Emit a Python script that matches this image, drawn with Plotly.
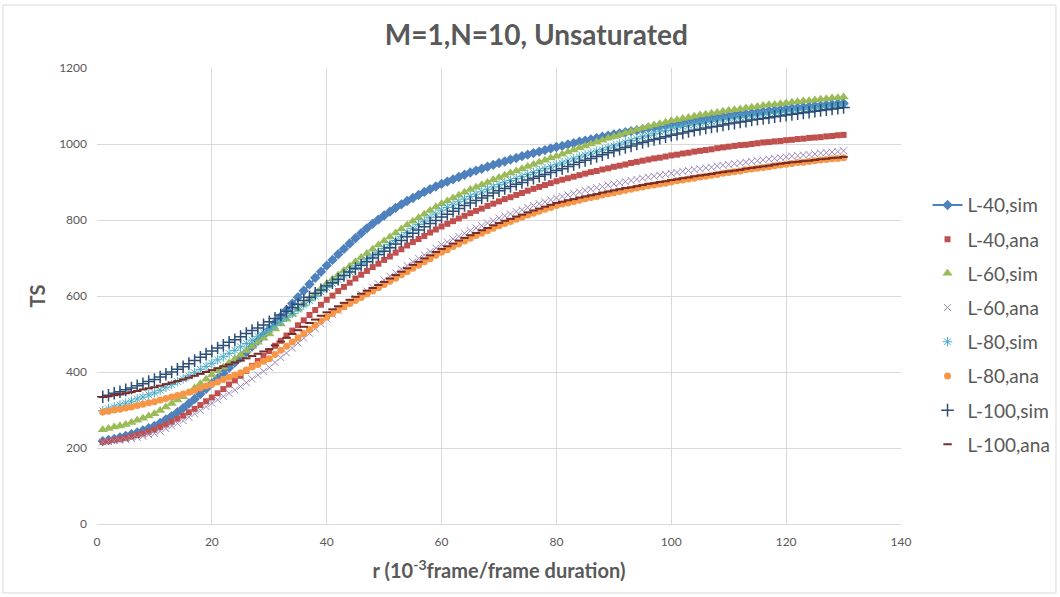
import plotly.graph_objects as go

# r values (10^-3 frame / frame duration)
r = list(range(1, 131))

l40_sim = [
    218, 221, 224, 228, 232, 236, 241, 246, 252, 258,
    266, 275, 284, 294, 305, 317, 329, 342, 356, 370,
    383, 397, 411, 425, 438, 452, 467, 482, 497, 512,
    529, 546, 563, 580, 597, 614, 631, 648, 664, 680,
    695, 710, 724, 738, 752, 765, 778, 790, 801, 812,
    822, 832, 841, 850, 858, 866, 874, 881, 888, 895,
    901, 907, 913, 919, 925, 930, 935, 940, 945, 950,
    954, 959, 963, 968, 972, 976, 980, 984, 988, 992,
    995, 999, 1002, 1006, 1009, 1012, 1015, 1019, 1022, 1025,
    1028, 1031, 1034, 1036, 1039, 1042, 1044, 1047, 1049, 1052,
    1054, 1056, 1059, 1061, 1063, 1065, 1067, 1070, 1072, 1074,
    1076, 1078, 1079, 1081, 1083, 1085, 1087, 1088, 1090, 1092,
    1094, 1095, 1097, 1098, 1100, 1101, 1103, 1104, 1106, 1107,
]

l40_ana = [
    216, 218, 221, 223, 226, 230, 234, 238, 243, 248,
    255, 262, 269, 277, 285, 294, 303, 313, 323, 333,
    344, 355, 367, 378, 390, 403, 416, 429, 442, 455,
    469, 482, 496, 509, 523, 536, 550, 563, 577, 590,
    601, 613, 624, 635, 646, 656, 666, 676, 685, 695,
    704, 714, 723, 733, 742, 750, 758, 767, 775, 783,
    790, 797, 804, 811, 818, 824, 830, 837, 843, 849,
    855, 860, 866, 871, 877, 882, 887, 892, 897, 902,
    906, 910, 914, 918, 922, 926, 929, 933, 936, 940,
    943, 946, 950, 953, 956, 959, 962, 964, 967, 970,
    972, 975, 977, 980, 982, 984, 986, 989, 991, 993,
    995, 997, 998, 1000, 1002, 1004, 1005, 1007, 1008, 1010,
    1011, 1013, 1014, 1016, 1017, 1018, 1020, 1021, 1023, 1024,
]

l60_sim = [
    248, 251, 255, 258, 262, 267, 273, 278, 284, 290,
    299, 308, 317, 326, 335, 346, 358, 369, 381, 392,
    403, 413, 424, 434, 445, 456, 467, 478, 489, 500,
    513, 526, 539, 552, 565, 578, 592, 605, 619, 632,
    644, 655, 667, 678, 690, 701, 712, 723, 734, 745,
    755, 766, 776, 787, 797, 806, 815, 825, 834, 843,
    850, 858, 865, 873, 880, 886, 893, 899, 906, 912,
    918, 924, 929, 935, 941, 946, 952, 957, 963, 968,
    973, 979, 984, 990, 995, 1000, 1005, 1010, 1015, 1020,
    1024, 1029, 1033, 1038, 1042, 1046, 1050, 1053, 1057, 1061,
    1064, 1067, 1070, 1073, 1076, 1078, 1081, 1083, 1086, 1088,
    1090, 1092, 1095, 1097, 1099, 1101, 1103, 1104, 1106, 1108,
    1110, 1111, 1113, 1114, 1116, 1118, 1119, 1121, 1122, 1124,
]

l60_ana = [
    216, 217, 219, 220, 222, 225, 228, 231, 235, 238,
    244, 251, 258, 265, 272, 281, 290, 299, 309, 318,
    327, 336, 344, 353, 362, 372, 382, 392, 402, 412,
    425, 438, 450, 463, 476, 489, 502, 514, 527, 540,
    551, 562, 572, 583, 594, 604, 613, 623, 632, 642,
    652, 661, 671, 680, 690, 699, 708, 717, 726, 735,
    742, 750, 757, 765, 772, 779, 785, 792, 798, 805,
    811, 816, 822, 827, 833, 838, 843, 848, 853, 858,
    862, 866, 870, 874, 878, 881, 885, 888, 892, 895,
    898, 901, 904, 907, 910, 913, 915, 918, 920, 923,
    925, 928, 930, 933, 935, 937, 939, 942, 944, 946,
    948, 950, 952, 954, 956, 958, 960, 962, 964, 966,
    968, 969, 971, 972, 974, 976, 977, 979, 980, 982,
]

l80_sim = [
    298, 303, 308, 313, 318, 323, 329, 334, 340, 345,
    352, 360, 367, 375, 382, 390, 398, 407, 415, 423,
    432, 440, 449, 457, 466, 475, 484, 494, 503, 512,
    523, 533, 544, 554, 565, 576, 588, 599, 611, 622,
    633, 643, 654, 664, 675, 685, 695, 705, 715, 725,
    736, 746, 757, 767, 778, 788, 797, 807, 816, 826,
    833, 840, 848, 855, 862, 868, 874, 881, 887, 893,
    898, 904, 909, 915, 920, 925, 930, 935, 940, 945,
    950, 955, 961, 966, 971, 976, 981, 985, 990, 995,
    1000, 1005, 1009, 1014, 1019, 1023, 1027, 1032, 1036, 1040,
    1043, 1046, 1048, 1051, 1054, 1056, 1059, 1061, 1064, 1066,
    1068, 1070, 1072, 1074, 1076, 1078, 1080, 1081, 1083, 1085,
    1087, 1089, 1090, 1092, 1094, 1096, 1098, 1099, 1101, 1103,
]

l80_ana = [
    295, 297, 300, 302, 305, 308, 312, 315, 319, 322,
    326, 330, 334, 338, 342, 347, 352, 358, 363, 368,
    374, 380, 386, 392, 398, 405, 413, 420, 428, 435,
    446, 457, 468, 479, 490, 501, 512, 523, 534, 545,
    554, 563, 572, 580, 588, 596, 605, 613, 622, 630,
    639, 647, 656, 664, 673, 681, 690, 698, 707, 715,
    722, 730, 737, 745, 752, 759, 765, 772, 778, 785,
    791, 796, 802, 807, 813, 818, 823, 828, 833, 838,
    842, 845, 849, 852, 856, 859, 862, 866, 869, 872,
    875, 878, 881, 884, 887, 890, 892, 895, 897, 900,
    903, 905, 908, 910, 913, 915, 918, 920, 923, 925,
    927, 929, 932, 934, 936, 938, 940, 943, 945, 947,
    949, 951, 952, 954, 956, 958, 959, 961, 962, 964,
]

l100_sim = [
    335, 339, 344, 348, 353, 358, 364, 369, 375, 380,
    387, 394, 400, 407, 414, 422, 430, 439, 447, 455,
    463, 470, 478, 485, 493, 501, 509, 516, 524, 532,
    541, 550, 560, 569, 578, 588, 597, 607, 616, 626,
    635, 644, 654, 663, 672, 681, 690, 700, 709, 718,
    727, 737, 746, 756, 765, 774, 782, 791, 799, 808,
    815, 823, 830, 838, 845, 851, 858, 864, 871, 877,
    883, 888, 894, 899, 905, 910, 915, 920, 925, 930,
    935, 941, 946, 952, 957, 962, 967, 972, 977, 982,
    986, 991, 995, 1000, 1004, 1008, 1012, 1015, 1019, 1023,
    1026, 1029, 1033, 1036, 1039, 1042, 1045, 1047, 1050, 1053,
    1055, 1058, 1060, 1063, 1065, 1067, 1069, 1072, 1074, 1076,
    1078, 1080, 1082, 1084, 1086, 1088, 1090, 1092, 1094, 1096,
]

l100_ana = [
    334, 336, 339, 341, 344, 347, 350, 354, 357, 360,
    364, 368, 372, 376, 380, 385, 390, 395, 400, 405,
    410, 415, 420, 425, 430, 436, 442, 448, 454, 460,
    470, 480, 490, 500, 510, 519, 529, 538, 548, 557,
    565, 573, 582, 590, 598, 606, 614, 621, 629, 637,
    646, 655, 664, 673, 682, 690, 699, 707, 716, 724,
    731, 738, 746, 753, 760, 766, 773, 779, 786, 792,
    798, 803, 809, 814, 820, 825, 830, 835, 840, 845,
    848, 852, 855, 859, 862, 865, 868, 872, 875, 878,
    881, 884, 886, 889, 892, 895, 897, 900, 902, 905,
    907, 910, 912, 915, 917, 919, 921, 924, 926, 928,
    930, 932, 935, 937, 939, 941, 943, 946, 948, 950,
    952, 953, 955, 956, 958, 960, 961, 963, 964, 966,
]

FONT = "Lato"
GREY = "#595959"

series = [
    ("L-40,sim", l40_sim, dict(symbol="diamond", size=8, color="#4F81BD"), True),
    ("L-40,ana", l40_ana, dict(symbol="square", size=6, color="#C0504D"), False),
    ("L-60,sim", l60_sim, dict(symbol="triangle-up", size=9, color="#9BBB59"), False),
    ("L-60,ana", l60_ana, dict(symbol="x-thin", size=7, color="#9C88BC",
                               line=dict(color="#9C88BC", width=1)), False),
    ("L-80,sim", l80_sim, dict(symbol="asterisk-open", size=8, color="#4BACC6",
                               line=dict(color="#4BACC6", width=1)), False),
    ("L-80,ana", l80_ana, dict(symbol="circle", size=7, color="#F79646"), False),
    ("L-100,sim", l100_sim, dict(symbol="cross-thin", size=9, color="#2C4D75",
                                 line=dict(color="#2C4D75", width=1.5)), False),
    ("L-100,ana", l100_ana, dict(symbol="line-ew", size=6, color="#772C2A",
                                 line=dict(color="#772C2A", width=2)), False),
]

fig = go.Figure()
for i, (name, ys, marker, with_line) in enumerate(series):
    fig.add_trace(go.Scatter(
        x=r, y=ys, name=name,
        mode="lines+markers" if with_line else "markers",
        marker=marker,
        line=dict(color=marker["color"], width=2),
        legendgroup=f"g{i}",
    ))

fig.update_layout(
    width=1060, height=597,
    margin=dict(l=97, r=159, t=68, b=73, autoexpand=False),
    paper_bgcolor="white", plot_bgcolor="white",
    font=dict(family=FONT, color=GREY),
    title=dict(text="<b>M=1,N=10, Unsaturated</b>", x=0.506, xanchor="center",
               y=1 - 35 / 597, yanchor="middle", xref="container", yref="container",
               font=dict(family=FONT, size=28, color=GREY)),
    legend=dict(x=1.033, xanchor="left", y=0.741, yanchor="top",
                font=dict(family=FONT, size=19, color=GREY),
                tracegroupgap=6.5, bgcolor="rgba(0,0,0,0)"),
    showlegend=True,
)

fig.update_xaxes(
    range=[0, 140], dtick=20, tick0=0,
    showgrid=True, gridcolor="#D9D9D9", gridwidth=1,
    showline=True, linecolor="#D9D9D9", mirror=False,
    zeroline=False, ticks="", ticklabelstandoff=7,
    tickfont=dict(family=FONT, size=12, color=GREY),
    title=dict(text="<b>r (10<sup>-3</sup>frame/frame duration)</b>",
               font=dict(family=FONT, size=20, color=GREY), standoff=15),
)
fig.update_yaxes(
    range=[0, 1200], dtick=200, tick0=0,
    showgrid=True, gridcolor="#D9D9D9", gridwidth=1,
    zeroline=False, ticks="", ticklabelstandoff=9,
    tickfont=dict(family=FONT, size=12, color=GREY),
    title=dict(text="<b>TS</b>", font=dict(family=FONT, size=20, color=GREY),
               standoff=8),
)

# light frame around the whole chart
fig.add_shape(type="rect", xref="paper", yref="paper",
              x0=(3 - 97) / 804, x1=(1056 - 97) / 804,
              y0=(524 - 593) / 456, y1=(524 - 5) / 456,
              line=dict(color="#D9D9D9", width=1), fillcolor="rgba(0,0,0,0)",
              layer="below")

fig.write_html("out.html")
